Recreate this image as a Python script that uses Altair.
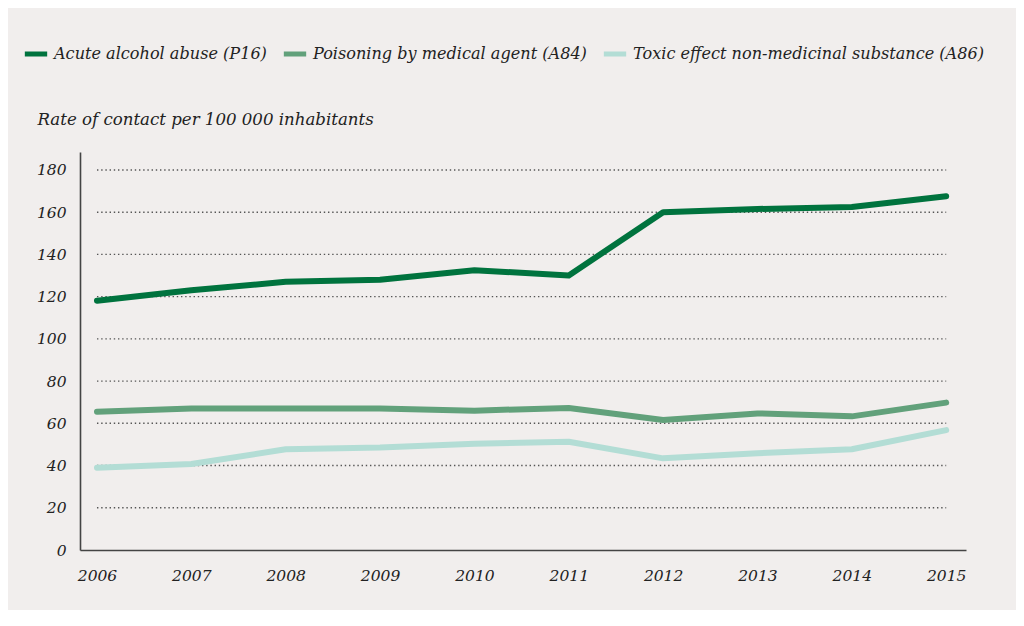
import altair as alt
import pandas as pd

years = [2006, 2007, 2008, 2009, 2010, 2011, 2012, 2013, 2014, 2015]
acute = [118, 123, 127, 128, 132.5, 130, 160, 161.5, 162.5, 167.5]
poison = [65.5, 67, 67, 67, 66, 67.3, 61.6, 64.7, 63.3, 69.8]
toxic = [39, 40.7, 47.7, 48.5, 50.3, 51.3, 43.4, 45.8, 47.7, 56.8]
series_names = ["Acute alcohol abuse (P16)", "Poisoning by medical agent (A84)",
                "Toxic effect non-medicinal substance (A86)"]
series_colors = ["#00733e", "#62a17b", "#b3ddd5"]
y_ticks = [0, 20, 40, 60, 80, 100, 120, 140, 160, 180]

rows = []
for name, vals in zip(series_names, [acute, poison, toxic]):
    for yr, v in zip(years, vals):
        rows.append({"year": yr, "value": v, "series": name})
df = pd.DataFrame(rows)

grid_df = pd.DataFrame({"y": y_ticks[1:], "x0": years[0], "x1": years[-1]})

FONT = "DejaVu Serif"
FS = 15.5
FS_BIG = 16.1
xscale = alt.Scale(domain=[2005.82, 2015.21], nice=False, zero=False)
yscale = alt.Scale(domain=[0, 188.5], nice=False)

grid = alt.Chart(grid_df).mark_rule(
    color="#555555", strokeWidth=1.4, strokeDash=[1.4, 2.8]
).encode(
    x=alt.X("x0:Q", scale=xscale),
    x2="x1:Q",
    y=alt.Y("y:Q", scale=yscale),
)

lines = alt.Chart(df).mark_line(strokeWidth=6, strokeCap="round", strokeJoin="round").encode(
    x=alt.X("year:Q", scale=xscale, title=None,
            axis=alt.Axis(values=years, format="d", ticks=False, grid=False,
                          labelPadding=18, domainColor="#444444", domainWidth=1.6,
                          labelFont=FONT, labelFontStyle="italic", labelFontSize=FS,
                          labelColor="#222222")),
    y=alt.Y("value:Q", scale=yscale,
            title="Rate of contact per 100 000 inhabitants",
            axis=alt.Axis(values=y_ticks, ticks=False, grid=False, labelPadding=14,
                          domainColor="#444444", domainWidth=1.6,
                          labelFont=FONT, labelFontStyle="italic", labelFontSize=FS,
                          labelColor="#222222",
                          titleAngle=0, titleAlign="left", titleBaseline="alphabetic",
                          titleX=-43, titleY=-28, titleFont=FONT, titleFontStyle="italic",
                          titleFontWeight="normal", titleFontSize=16.6, titleColor="#222222")),
    color=alt.Color("series:N", sort=series_names,
                    scale=alt.Scale(domain=series_names, range=series_colors),
                    legend=alt.Legend(title=None, orient="none", direction="horizontal",
                                      legendX=-58, legendY=-112,
                                      symbolType="stroke", symbolStrokeWidth=5,
                                      symbolSize=500, columnPadding=6,
                                      labelFont=FONT, labelFontStyle="italic",
                                      labelFontSize=FS_BIG, labelColor="#222222",
                                      labelLimit=500)),
)

chart = alt.layer(grid, lines).properties(
    width=886, height=398,
    autosize=alt.AutoSizeParams(type="none"),
    padding={"left": 72, "top": 144, "right": 50, "bottom": 60},
    background="#f1eeed",
).configure_view(stroke=None)

chart.save("out.html", embed_options={"renderer": "svg", "actions": False})
